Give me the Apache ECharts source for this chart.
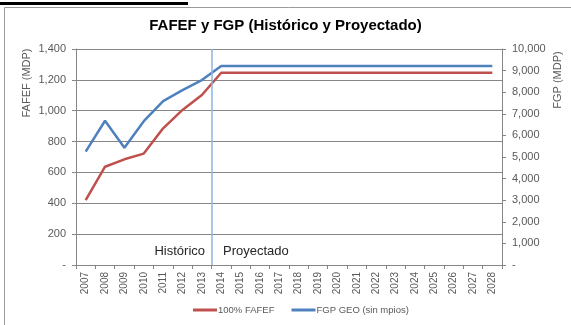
<!DOCTYPE html>
<html>
<head>
<meta charset="utf-8">
<script src="https://cdn.jsdelivr.net/npm/echarts@6/dist/echarts.min.js"></script>
<style>
  html, body { margin: 0; padding: 0; background: #fff; }
  #chart { width: 571px; height: 325px; }
</style>
</head>
<body>
<div id="chart"></div>
<script>
// Years on the category axis
const years = ['2007','2008','2009','2010','2011','2012','2013','2014','2015','2016','2017',
               '2018','2019','2020','2021','2022','2023','2024','2025','2026','2027','2028'];
// 100% FAFEF (MDP), left axis
const fafef = [421, 637, 685, 722, 886, 1005, 1102, 1246, 1246, 1246, 1246,
               1246, 1246, 1246, 1246, 1246, 1246, 1246, 1246, 1246, 1246, 1246];
// FGP GEO sin municipios (MDP), right axis
const fgp = [5250, 6680, 5430, 6660, 7590, 8100, 8560, 9210, 9210, 9210, 9210,
             9210, 9210, 9210, 9210, 9210, 9210, 9210, 9210, 9210, 9210, 9210];
// First projected year: the divider sits on its left edge
const firstProjected = '2014';

const FONT = 'Liberation Sans';
const numFmt = v => v === 0 ? '-' : v.toLocaleString('en-US');

const chart = echarts.init(document.getElementById('chart'), null, { renderer: 'canvas' });
chart.setOption({
  animation: false,
  backgroundColor: '#fff',
  title: {
    text: 'FAFEF y FGP (Histórico y Proyectado)',
    left: 'center', top: 13,
    textStyle: { fontFamily: FONT, fontWeight: 'bold', fontSize: 15, color: '#000' }
  },
  legend: {
    bottom: 5, left: 188,
    itemWidth: 24, itemHeight: 3, itemGap: 17,
    icon: 'rect',
    textStyle: { fontFamily: FONT, fontSize: 9.5, color: '#595959', padding: [0, 0, 0, -4] },
    data: ['100% FAFEF', 'FGP GEO (sin mpios)']
  },
  grid: { left: 76, right: 69, top: 49, bottom: 60 },
  xAxis: [
    {
      type: 'category', data: years, boundaryGap: true,
      axisLine: { lineStyle: { color: '#868686', width: 1 } },
      axisTick: { show: true, length: 4, lineStyle: { color: '#868686' } },
      axisLabel: { rotate: 90, fontFamily: FONT, fontSize: 10, color: '#595959', margin: 7 }
    },
    { type: 'value', min: 0, max: years.length, show: false }
  ],
  yAxis: [
    {
      type: 'value', min: 0, max: 1400, interval: 200,
      axisLine: { show: true, lineStyle: { color: '#868686' } },
      axisTick: { show: true, length: 4, inside: false, lineStyle: { color: '#868686' } },
      splitLine: { lineStyle: { color: '#868686', width: 1 } },
      axisLabel: { formatter: numFmt, fontFamily: FONT, fontSize: 11, color: '#595959', margin: 10 }
    },
    {
      type: 'value', min: 0, max: 10000, interval: 1000,
      axisLine: { show: true, lineStyle: { color: '#868686' } },
      axisTick: { show: true, length: 4, lineStyle: { color: '#868686' } },
      splitLine: { show: false },
      axisLabel: { formatter: numFmt, fontFamily: FONT, fontSize: 11, color: '#595959', margin: 10 }
    }
  ],
  series: [
    {
      name: '100% FAFEF', type: 'line', data: fafef, yAxisIndex: 0,
      symbol: 'none', lineStyle: { color: '#C0504D', width: 2.5 }, itemStyle: { color: '#C0504D' }
    },
    {
      name: 'FGP GEO (sin mpios)', type: 'line', data: fgp, yAxisIndex: 1,
      symbol: 'none', lineStyle: { color: '#4F81BD', width: 2.5 }, itemStyle: { color: '#4F81BD' }
    },
    {
      // divider between historic and projected years
      type: 'line', xAxisIndex: 1, yAxisIndex: 0, data: [],
      markLine: {
        silent: true, symbol: 'none',
        label: { show: false },
        lineStyle: { type: 'solid', color: '#8EB4E3', width: 1.5 },
        data: [{ xAxis: years.indexOf(firstProjected) }]
      }
    }
  ],
  graphic: [
    { type: 'rect', shape: { x: 4.5, y: 7.5, width: 600, height: 400 },
      style: { fill: null, stroke: '#9a9a9a', lineWidth: 1 }, silent: true },
    { type: 'rect', shape: { x: 0, y: 2, width: 188, height: 3 },
      style: { fill: '#000' }, silent: true },
    { type: 'text', x: 27, y: 83, rotation: Math.PI / 2,
      style: { text: 'FAFEF (MDP)', fontFamily: FONT, fontSize: 11, fill: '#595959',
               align: 'center', verticalAlign: 'middle' } },
    { type: 'text', x: 558, y: 80, rotation: Math.PI / 2,
      style: { text: 'FGP (MDP)', fontFamily: FONT, fontSize: 11, fill: '#595959',
               align: 'center', verticalAlign: 'middle' } },
    { type: 'text', x: 205, y: 251,
      style: { text: 'Histórico', fontFamily: FONT, fontSize: 13, fill: '#262626',
               align: 'right', verticalAlign: 'middle' } },
    { type: 'text', x: 223, y: 251,
      style: { text: 'Proyectado', fontFamily: FONT, fontSize: 13, fill: '#262626',
               align: 'left', verticalAlign: 'middle' } }
  ]
});
</script>
</body>
</html>
